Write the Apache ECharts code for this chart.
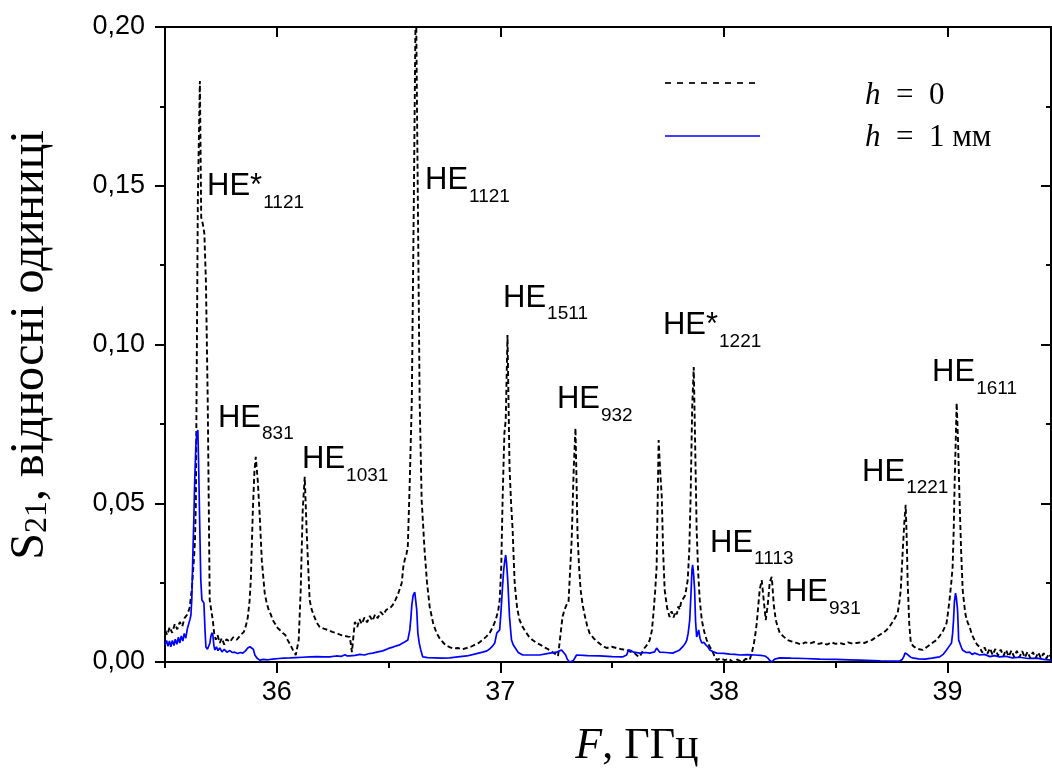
<!DOCTYPE html>
<html>
<head>
<meta charset="utf-8">
<script src="https://cdn.jsdelivr.net/npm/echarts@6/dist/echarts.min.js"></script>
<style>
  html, body { margin: 0; padding: 0; background: #fff; }
  #chart { width: 1052px; height: 769px; }
</style>
</head>
<body>
<div id="chart"></div>
<script>
// S21 vs F, h = 0 (dashed) and h = 1 mm (blue)
var h0Data = [
  [35.500,0.0100],[35.510,0.0085],[35.521,0.0110],[35.532,0.0092],[35.544,0.0120],[35.555,0.0103],
  [35.566,0.0126],[35.577,0.0112],[35.588,0.0139],[35.600,0.0150],[35.610,0.0170],[35.620,0.0230],
  [35.629,0.0320],[35.634,0.0380],[35.638,0.0500],[35.647,0.1460],[35.656,0.1830],[35.662,0.1400],
  [35.669,0.1380],[35.676,0.1350],[35.683,0.1200],[35.691,0.0830],[35.700,0.0195],[35.707,0.0190],
  [35.714,0.0130],[35.720,0.0090],[35.727,0.0070],[35.735,0.0085],[35.745,0.0060],[35.754,0.0075],
  [35.765,0.0055],[35.775,0.0072],[35.790,0.0063],[35.805,0.0078],[35.821,0.0070],[35.838,0.0085],
  [35.853,0.0095],[35.862,0.0115],[35.870,0.0139],[35.878,0.0190],[35.884,0.0260],[35.893,0.0480],
  [35.900,0.0600],[35.906,0.0646],[35.915,0.0570],[35.924,0.0457],[35.933,0.0320],[35.946,0.0217],
  [35.955,0.0185],[35.964,0.0164],[35.973,0.0150],[35.982,0.0132],[35.993,0.0120],[36.004,0.0107],
  [36.015,0.0100],[36.027,0.0091],[36.038,0.0085],[36.049,0.0069],[36.060,0.0055],[36.072,0.0038],
  [36.085,0.0022],[36.098,0.0069],[36.107,0.0227],[36.116,0.0479],[36.125,0.0583],[36.134,0.0406],
  [36.147,0.0195],[36.156,0.0165],[36.165,0.0148],[36.178,0.0125],[36.192,0.0110],[36.210,0.0105],
  [36.228,0.0101],[36.248,0.0095],[36.268,0.0091],[36.286,0.0085],[36.304,0.0082],[36.318,0.0080],
  [36.327,0.0079],[36.336,0.0031],[36.349,0.0126],[36.360,0.0110],[36.370,0.0135],[36.380,0.0120],
  [36.392,0.0140],[36.404,0.0125],[36.416,0.0145],[36.428,0.0130],[36.440,0.0150],[36.452,0.0138],
  [36.464,0.0158],[36.476,0.0148],[36.490,0.0165],[36.505,0.0168],[36.519,0.0180],[36.530,0.0195],
  [36.541,0.0211],[36.550,0.0230],[36.559,0.0249],[36.566,0.0300],[36.572,0.0321],[36.580,0.0340],
  [36.586,0.0362],[36.595,0.0573],[36.604,0.0825],[36.613,0.1455],[36.622,0.2150],[36.630,0.2150],
  [36.639,0.0825],[36.648,0.0510],[36.661,0.0353],[36.672,0.0250],[36.684,0.0173],[36.700,0.0120],
  [36.715,0.0091],[36.728,0.0075],[36.742,0.0063],[36.757,0.0052],[36.773,0.0047],[36.790,0.0042],
  [36.809,0.0044],[36.829,0.0040],[36.849,0.0044],[36.868,0.0048],[36.885,0.0054],[36.903,0.0060],
  [36.920,0.0069],[36.937,0.0080],[36.952,0.0091],[36.966,0.0110],[36.979,0.0132],[36.990,0.0160],
  [36.997,0.0195],[37.004,0.0300],[37.010,0.0510],[37.018,0.0720],[37.024,0.0762],[37.032,0.1030],
  [37.041,0.0614],[37.048,0.0500],[37.055,0.0416],[37.060,0.0320],[37.064,0.0249],[37.075,0.0170],
  [37.086,0.0132],[37.100,0.0110],[37.113,0.0095],[37.128,0.0080],[37.144,0.0069],[37.162,0.0060],
  [37.180,0.0054],[37.200,0.0045],[37.220,0.0038],[37.235,0.0030],[37.247,0.0025],[37.258,0.0018],
  [37.265,0.0016],[37.278,0.0142],[37.287,0.0165],[37.296,0.0180],[37.305,0.0190],[37.310,0.0195],
  [37.319,0.0384],[37.328,0.0605],[37.336,0.0737],[37.340,0.0600],[37.345,0.0406],[37.352,0.0300],
  [37.359,0.0227],[37.368,0.0180],[37.377,0.0148],[37.388,0.0115],[37.399,0.0091],[37.417,0.0075],
  [37.435,0.0063],[37.455,0.0052],[37.475,0.0044],[37.498,0.0048],[37.520,0.0044],[37.543,0.0040],
  [37.565,0.0038],[37.583,0.0032],[37.600,0.0028],[37.612,0.0020],[37.623,0.0016],[37.633,0.0030],
  [37.645,0.0044],[37.657,0.0055],[37.668,0.0069],[37.678,0.0100],[37.686,0.0164],[37.693,0.0230],
  [37.699,0.0299],[37.708,0.0699],[37.715,0.0600],[37.722,0.0520],[37.728,0.0350],[37.735,0.0227],
  [37.746,0.0170],[37.757,0.0142],[37.766,0.0160],[37.775,0.0140],[37.782,0.0158],[37.789,0.0150],
  [37.796,0.0175],[37.802,0.0165],[37.809,0.0190],[37.816,0.0186],[37.827,0.0210],[37.838,0.0258],
  [37.845,0.0350],[37.851,0.0520],[37.858,0.0800],[37.865,0.0929],[37.871,0.0700],[37.878,0.0416],
  [37.885,0.0280],[37.892,0.0195],[37.901,0.0132],[37.912,0.0095],[37.923,0.0069],[37.935,0.0050],
  [37.946,0.0038],[37.957,0.0020],[37.968,0.0006],[37.985,0.0012],[38.004,0.0006],[38.022,0.0010],
  [38.040,0.0000],[38.060,0.0008],[38.080,0.0000],[38.098,0.0010],[38.115,0.0006],[38.125,0.0030],
  [38.133,0.0054],[38.140,0.0085],[38.147,0.0123],[38.154,0.0180],[38.160,0.0227],[38.169,0.0258],
  [38.178,0.0195],[38.187,0.0132],[38.196,0.0180],[38.205,0.0252],[38.214,0.0268],[38.218,0.0230],
  [38.223,0.0180],[38.232,0.0132],[38.241,0.0110],[38.250,0.0091],[38.267,0.0080],[38.285,0.0069],
  [38.305,0.0064],[38.325,0.0060],[38.345,0.0055],[38.364,0.0062],[38.384,0.0058],[38.404,0.0063],
  [38.423,0.0057],[38.442,0.0060],[38.462,0.0055],[38.480,0.0062],[38.500,0.0057],[38.518,0.0060],
  [38.538,0.0056],[38.556,0.0062],[38.575,0.0058],[38.594,0.0060],[38.613,0.0062],[38.630,0.0060],
  [38.646,0.0066],[38.661,0.0069],[38.680,0.0078],[38.696,0.0085],[38.712,0.0092],[38.728,0.0101],
  [38.744,0.0115],[38.760,0.0132],[38.777,0.0154],[38.785,0.0190],[38.791,0.0227],[38.800,0.0353],
  [38.807,0.0440],[38.813,0.0495],[38.818,0.0380],[38.822,0.0249],[38.829,0.0120],[38.836,0.0060],
  [38.847,0.0050],[38.858,0.0044],[38.874,0.0040],[38.889,0.0038],[38.905,0.0046],[38.920,0.0054],
  [38.936,0.0062],[38.951,0.0069],[38.965,0.0082],[38.978,0.0095],[38.988,0.0110],[38.996,0.0123],
  [39.003,0.0160],[39.009,0.0195],[39.017,0.0250],[39.023,0.0299],[39.028,0.0420],[39.032,0.0564],
  [39.037,0.0700],[39.041,0.0816],[39.047,0.0700],[39.054,0.0510],[39.061,0.0350],[39.068,0.0227],
  [39.075,0.0180],[39.081,0.0148],[39.090,0.0125],[39.099,0.0110],[39.110,0.0085],[39.121,0.0069],
  [39.132,0.0055],[39.144,0.0047],[39.155,0.0030],[39.166,0.0046],[39.178,0.0026],[39.190,0.0043],
  [39.202,0.0022],[39.214,0.0041],[39.226,0.0020],[39.238,0.0039],[39.250,0.0019],[39.262,0.0038],
  [39.274,0.0017],[39.286,0.0036],[39.298,0.0016],[39.310,0.0035],[39.322,0.0015],[39.334,0.0034],
  [39.346,0.0014],[39.358,0.0032],[39.370,0.0013],[39.382,0.0031],[39.394,0.0012],[39.406,0.0030],
  [39.418,0.0012],[39.430,0.0028],[39.442,0.0011],[39.454,0.0026],[39.463,0.0015]
];

var h1Data = [
  [35.500,0.0054],[35.507,0.0068],[35.513,0.0050],[35.520,0.0066],[35.526,0.0048],[35.533,0.0068],
  [35.540,0.0052],[35.546,0.0072],[35.553,0.0056],[35.560,0.0078],[35.566,0.0060],[35.573,0.0082],
  [35.580,0.0066],[35.586,0.0090],[35.593,0.0075],[35.600,0.0105],[35.606,0.0110],[35.612,0.0135],
  [35.616,0.0148],[35.620,0.0200],[35.624,0.0321],[35.629,0.0450],[35.633,0.0573],[35.638,0.0680],
  [35.642,0.0721],[35.647,0.0731],[35.651,0.0600],[35.656,0.0406],[35.660,0.0260],[35.665,0.0195],
  [35.670,0.0190],[35.674,0.0186],[35.679,0.0100],[35.683,0.0047],[35.690,0.0040],[35.696,0.0044],
  [35.701,0.0060],[35.705,0.0080],[35.710,0.0092],[35.714,0.0085],[35.719,0.0050],[35.723,0.0038],
  [35.730,0.0048],[35.737,0.0036],[35.745,0.0044],[35.755,0.0032],[35.765,0.0040],[35.777,0.0031],
  [35.790,0.0036],[35.800,0.0030],[35.812,0.0031],[35.825,0.0027],[35.837,0.0030],[35.848,0.0028],
  [35.860,0.0035],[35.870,0.0044],[35.880,0.0048],[35.888,0.0047],[35.895,0.0040],[35.902,0.0022],
  [35.912,0.0012],[35.924,0.0006],[35.940,0.0008],[35.960,0.0007],[35.982,0.0009],[36.010,0.0011],
  [36.030,0.0012],[36.058,0.0013],[36.085,0.0014],[36.115,0.0015],[36.147,0.0016],[36.180,0.0017],
  [36.210,0.0016],[36.237,0.0016],[36.265,0.0019],[36.290,0.0018],[36.305,0.0023],[36.315,0.0019],
  [36.326,0.0019],[36.350,0.0021],[36.372,0.0024],[36.393,0.0022],[36.410,0.0026],[36.429,0.0028],
  [36.452,0.0032],[36.474,0.0035],[36.497,0.0042],[36.519,0.0047],[36.535,0.0051],[36.550,0.0054],
  [36.561,0.0059],[36.572,0.0063],[36.580,0.0066],[36.586,0.0069],[36.595,0.0101],[36.600,0.0140],
  [36.604,0.0180],[36.610,0.0210],[36.617,0.0220],[36.622,0.0190],[36.626,0.0164],[36.631,0.0091],
  [36.637,0.0060],[36.644,0.0038],[36.653,0.0016],[36.675,0.0014],[36.707,0.0013],[36.740,0.0012],
  [36.774,0.0013],[36.810,0.0016],[36.850,0.0019],[36.885,0.0025],[36.921,0.0031],[36.940,0.0035],
  [36.952,0.0041],[36.965,0.0050],[36.975,0.0060],[36.984,0.0091],[36.990,0.0095],[36.997,0.0101],
  [37.002,0.0150],[37.006,0.0195],[37.010,0.0240],[37.015,0.0290],[37.020,0.0320],[37.024,0.0337],
  [37.028,0.0310],[37.033,0.0258],[37.037,0.0200],[37.041,0.0142],[37.046,0.0100],[37.050,0.0069],
  [37.057,0.0055],[37.064,0.0047],[37.080,0.0030],[37.100,0.0022],[37.140,0.0022],[37.176,0.0022],
  [37.215,0.0027],[37.252,0.0031],[37.264,0.0035],[37.274,0.0038],[37.283,0.0030],[37.292,0.0022],
  [37.300,0.0008],[37.310,0.0000],[37.319,0.0002],[37.328,0.0006],[37.335,0.0015],[37.341,0.0022],
  [37.390,0.0020],[37.444,0.0019],[37.500,0.0017],[37.546,0.0016],[37.565,0.0022],[37.573,0.0038],
  [37.578,0.0044],[37.587,0.0035],[37.596,0.0031],[37.623,0.0028],[37.650,0.0030],[37.668,0.0028],
  [37.690,0.0032],[37.699,0.0044],[37.706,0.0038],[37.713,0.0031],[37.740,0.0030],[37.771,0.0028],
  [37.790,0.0034],[37.802,0.0038],[37.818,0.0050],[37.828,0.0060],[37.834,0.0069],[37.840,0.0090],
  [37.847,0.0132],[37.853,0.0220],[37.857,0.0290],[37.860,0.0306],[37.864,0.0280],[37.869,0.0227],
  [37.873,0.0130],[37.878,0.0079],[37.883,0.0090],[37.887,0.0101],[37.893,0.0075],[37.901,0.0060],
  [37.910,0.0062],[37.919,0.0054],[37.928,0.0048],[37.937,0.0038],[37.950,0.0033],[37.968,0.0028],
  [38.000,0.0027],[38.026,0.0025],[38.050,0.0024],[38.071,0.0022],[38.105,0.0023],[38.138,0.0022],
  [38.165,0.0021],[38.183,0.0019],[38.196,0.0013],[38.205,0.0005],[38.214,0.0000],[38.220,0.0005],
  [38.227,0.0009],[38.250,0.0013],[38.300,0.0012],[38.360,0.0011],[38.429,0.0009],[38.500,0.0008],
  [38.560,0.0007],[38.608,0.0006],[38.700,0.0004],[38.787,0.0003],[38.797,0.0008],[38.804,0.0016],
  [38.810,0.0028],[38.813,0.0031],[38.819,0.0025],[38.826,0.0019],[38.835,0.0015],[38.844,0.0013],
  [38.870,0.0010],[38.898,0.0009],[38.930,0.0012],[38.965,0.0016],[38.982,0.0025],[38.996,0.0038],
  [39.008,0.0050],[39.018,0.0060],[39.023,0.0090],[39.027,0.0132],[39.031,0.0190],[39.036,0.0217],
  [39.040,0.0200],[39.045,0.0164],[39.048,0.0110],[39.050,0.0069],[39.054,0.0062],[39.058,0.0054],
  [39.063,0.0045],[39.067,0.0038],[39.075,0.0040],[39.085,0.0030],[39.099,0.0031],[39.110,0.0024],
  [39.122,0.0028],[39.144,0.0022],[39.165,0.0024],[39.190,0.0017],[39.210,0.0020],[39.233,0.0016],
  [39.260,0.0018],[39.290,0.0013],[39.323,0.0015],[39.360,0.0011],[39.400,0.0012],[39.430,0.0008],
  [39.463,0.0006]
];

var xMajorTicks = [36, 37, 38, 39];
var xMinorTicks = [35.5, 36.5, 37.5, 38.5];

// mode labels: name, index, anchor (left / baseline) in data units
var modeNames = ['HE*', 'HE', 'HE', 'HE*', 'HE', 'HE', 'HE', 'HE', 'HE', 'HE', 'HE'];
var modeIndex = ['1121', '1121', '1511', '1221', '831', '1031', '932', '1611', '1221', '1113', '931'];
var modeAnchors = [
  [35.688, 0.1465], [36.663, 0.1484], [37.012, 0.1115], [37.727, 0.1027],
  [35.737, 0.0737], [36.113, 0.0605], [37.253, 0.0794], [38.931, 0.0879],
  [38.618, 0.0567], [37.938, 0.0343], [38.273, 0.0186]
];

var SANS = '"Liberation Sans", Arial, Helvetica, sans-serif';
var SERIF = '"Liberation Serif", "Times New Roman", Times, serif';

var chart = echarts.init(document.getElementById('chart'));

var axisLine = { show: true, onZero: false, lineStyle: { color: '#000', width: 2 } };
var tickLine = { color: '#000', width: 2 };

function xAxisPart(pos, ticks, len, inside, labels) {
  return {
    type: 'value', position: pos, min: 35.5, max: 39.463,
    axisLine: labels !== null || len > 6 ? axisLine : { show: false },
    axisTick: { show: true, customValues: ticks, length: len, inside: inside, lineStyle: tickLine },
    axisLabel: labels ? {
      show: true, customValues: ticks, color: '#000', fontSize: 27, fontFamily: SANS, margin: 17
    } : { show: false },
    splitLine: { show: false }
  };
}

function yAxisPart(pos, inside, labels) {
  return {
    type: 'value', position: pos, min: 0, max: 0.2, interval: 0.05,
    axisLine: axisLine,
    axisTick: { show: true, length: 10, inside: inside, lineStyle: tickLine },
    minorTick: { show: true, splitNumber: 2, length: 5, lineStyle: tickLine },
    axisLabel: labels ? {
      show: true, color: '#000', fontSize: 27, fontFamily: SANS, margin: 20,
      formatter: function (v) { return v.toFixed(2).replace('.', ','); }
    } : { show: false },
    splitLine: { show: false },
    minorSplitLine: { show: false }
  };
}

chart.setOption({
  animation: false,
  backgroundColor: '#fff',
  grid: { left: 165, right: 1, top: 27, bottom: 107, containLabel: false },
  xAxis: [
    xAxisPart('bottom', xMajorTicks, 11, false, true),
    xAxisPart('bottom', xMinorTicks, 6, false, null),
    xAxisPart('top', xMajorTicks, 10, true, false),
    xAxisPart('top', xMinorTicks, 5, true, null)
  ],
  yAxis: [
    yAxisPart('left', false, true),
    yAxisPart('right', true, false)
  ],
  series: [
    {
      name: 'h = 0', type: 'line', xAxisIndex: 0, yAxisIndex: 0,
      data: h0Data, showSymbol: false, symbol: 'none',
      lineStyle: { color: '#000', width: 1.9, type: [5, 3] }
    },
    {
      name: 'h = 1 мм', type: 'line', xAxisIndex: 0, yAxisIndex: 0,
      data: h1Data, showSymbol: false, symbol: 'none',
      lineStyle: { color: '#0000ff', width: 1.7 }
    }
  ]
});

// text measuring for the subscripts
var ctx = document.createElement('canvas').getContext('2d');
function textWidth(s, font) { ctx.font = font; return ctx.measureText(s).width; }

var MAIN_FONT = '31px ' + SANS;
var SUB_FONT = '19px ' + SANS;

var graphics = [];
for (var i = 0; i < modeNames.length; i++) {
  var p = chart.convertToPixel({ xAxisIndex: 0, yAxisIndex: 0 }, modeAnchors[i]);
  var w = textWidth(modeNames[i], MAIN_FONT);
  graphics.push({
    type: 'group', x: p[0], y: p[1], silent: true,
    children: [
      { type: 'text', x: 0, y: -10,
        style: { text: modeNames[i], font: MAIN_FONT, fill: '#000',
                 textAlign: 'left', align: 'left', textVerticalAlign: 'middle', verticalAlign: 'middle' } },
      { type: 'text', x: w + 1, y: 12 - 6,
        style: { text: modeIndex[i], font: SUB_FONT, fill: '#000',
                 textAlign: 'left', align: 'left', textVerticalAlign: 'middle', verticalAlign: 'middle' } }
    ]
  });
}

// legend
graphics.push(
  { type: 'line', silent: true, shape: { x1: 665, y1: 83, x2: 760, y2: 83 },
    style: { stroke: '#000', lineWidth: 1.7, lineDash: [6, 6] } },
  { type: 'line', silent: true, shape: { x1: 665, y1: 136, x2: 760, y2: 136 },
    style: { stroke: '#0000ff', lineWidth: 1.7 } },
  { type: 'text', x: 865, y: 96, silent: true,
    style: { text: '{i|h}{n|\u2002=\u20020}', fill: '#000', textAlign: 'left', align: 'left',
             textVerticalAlign: 'middle', verticalAlign: 'middle',
             rich: { i: { fontFamily: SERIF, fontSize: 31, fontStyle: 'italic', fill: '#000' },
                     n: { fontFamily: SERIF, fontSize: 31, fill: '#000' } } } },
  { type: 'text', x: 865, y: 138, silent: true,
    style: { text: '{i|h}{n|\u2002=\u20021 мм}', fill: '#000', textAlign: 'left', align: 'left',
             textVerticalAlign: 'middle', verticalAlign: 'middle',
             rich: { i: { fontFamily: SERIF, fontSize: 31, fontStyle: 'italic', fill: '#000' },
                     n: { fontFamily: SERIF, fontSize: 31, fill: '#000' } } } }
);

// axis titles
graphics.push(
  { type: 'text', x: 637, y: 746, silent: true,
    style: { text: '{i|F}{n|, ГГц}', fill: '#000', textAlign: 'center', align: 'center',
             textVerticalAlign: 'middle', verticalAlign: 'middle',
             rich: { i: { fontFamily: SERIF, fontSize: 44, fontStyle: 'italic', fill: '#000' },
                     n: { fontFamily: SERIF, fontSize: 44, fill: '#000' } } } },
  { type: 'text', x: 30, y: 345, rotation: Math.PI / 2, silent: true,
    style: { text: '{a|S}{b|21}{a|, відносні одиниці}', fill: '#000', textAlign: 'center', align: 'center',
             textVerticalAlign: 'middle', verticalAlign: 'middle',
             rich: { a: { fontFamily: SERIF, fontSize: 48, fill: '#000', verticalAlign: 'bottom' },
                     b: { fontFamily: SERIF, fontSize: 32, fill: '#000', verticalAlign: 'bottom' } } } }
);

chart.setOption({ graphic: graphics });
</script>
</body>
</html>
